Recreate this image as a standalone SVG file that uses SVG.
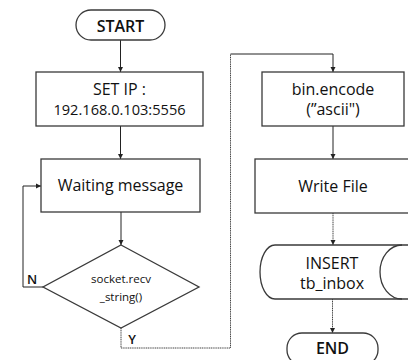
<svg xmlns="http://www.w3.org/2000/svg" width="408" height="360" viewBox="0 0 408 360">
<style>
.box{fill:#fff;stroke:#3a3a3a;stroke-width:1.3}
.t{font-family:"Open Sans","Liberation Sans",sans-serif;font-size:16px;fill:#111;text-anchor:middle}
.b{font-weight:600}
.s{font-size:11.5px}
.c{fill:none;stroke:#222;stroke-width:1}
.d{stroke:#444;stroke-dasharray:1.2 0.6}
</style>
<defs>
<marker id="ar" markerWidth="6" markerHeight="6" refX="5" refY="3" orient="auto" markerUnits="userSpaceOnUse">
<path d="M0,0.5 L5,3 L0,5.5 Z" fill="#222"/>
</marker>
</defs>
<rect width="408" height="360" fill="#fff"/>
<g id="connectors">
<path class="c" d="M120.5,40 V72" marker-end="url(#ar)"/>
<path class="c" d="M120.5,126 V159" marker-end="url(#ar)"/>
<path class="c" d="M121,212 V245" marker-end="url(#ar)"/>
<path class="c" d="M43,287 H23 V186 H41" marker-end="url(#ar)"/>
<path class="c d" d="M121,328 V348 H230.5 V54"/>
<path class="c" d="M230.5,54 H333 V72" marker-end="url(#ar)"/>
<path class="c" d="M333,126 V159" marker-end="url(#ar)"/>
<path class="c d" d="M333,213 V245" marker-end="url(#ar)"/>
<path class="c d" d="M332.5,299 V333" marker-end="url(#ar)"/>
</g>
<g id="start">
<rect class="box" x="76" y="10" width="89" height="30" rx="15"/>
<text class="t b" x="120.5" y="31.5">START</text>
</g>
<g id="setip">
<rect class="box" x="36" y="72" width="167" height="54"/>
<text class="t" x="119.5" y="95">SET IP :</text>
<text class="t" x="119.5" y="115" style="font-size:14.6px">192.168.0.103:5556</text>
</g>
<g id="waiting">
<rect class="box" x="41" y="159" width="159" height="53"/>
<text class="t" x="120.5" y="191">Waiting message</text>
</g>
<g id="recv">
<polygon class="box" points="121,245 199,287 121,328 43,287"/>
<text class="t s" x="121" y="283">socket.recv</text>
<text class="t s" x="121" y="301">_string()</text>
</g>
<g id="labels">
<text class="t b" x="32" y="284" style="font-size:13px">N</text>
<text class="t b" x="132" y="344" style="font-size:13px">Y</text>
</g>
<g id="encode">
<rect class="box" x="262" y="72" width="142" height="54"/>
<text class="t" x="333" y="95">bin.encode</text>
<text class="t" x="333" y="115">(”ascii")</text>
</g>
<g id="write">
<rect class="box" x="255" y="159" width="170" height="54"/>
<text class="t" x="333" y="192">Write File</text>
</g>
<g id="insert">
<path class="box" d="M275,245 H430 V299 H275 A15,27 0 0 1 275,245 Z"/>
<path class="c" style="stroke:#3a3a3a;stroke-width:1.3" d="M402,245 A22,27 0 0 0 402,299"/>
<text class="t" x="332" y="269">INSERT</text>
<text class="t" x="332" y="289">tb_inbox</text>
</g>
<g id="end">
<rect class="box" x="287" y="333" width="91" height="32" rx="15"/>
<text class="t b" x="332.5" y="354">END</text>
</g>
</svg>
